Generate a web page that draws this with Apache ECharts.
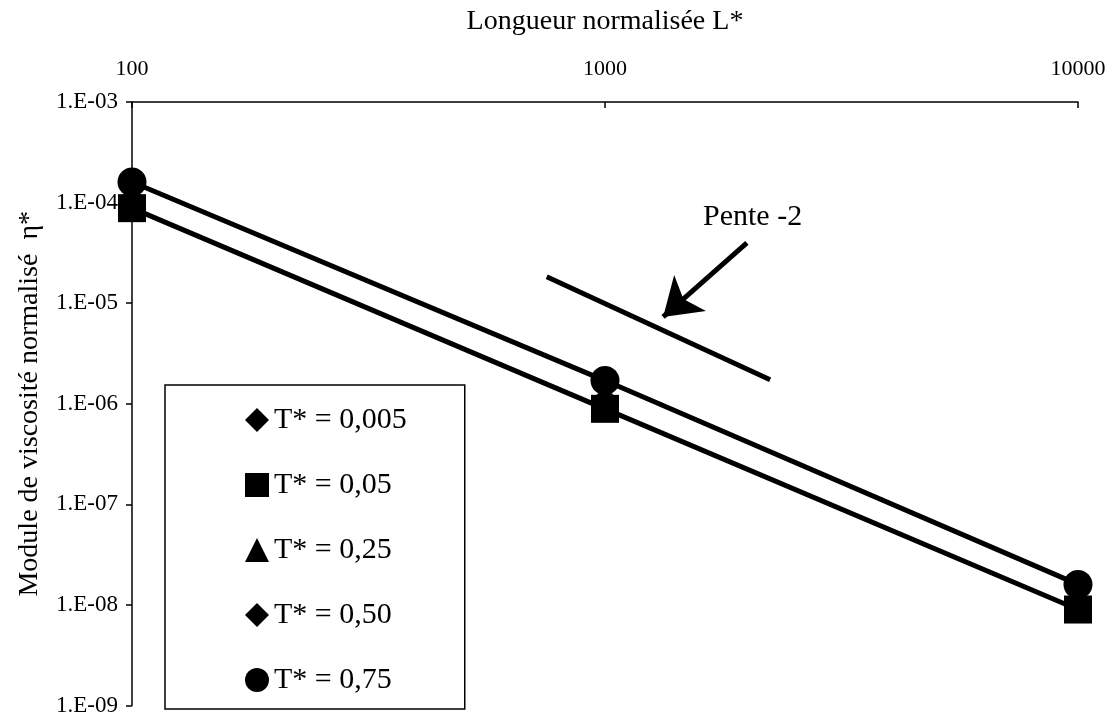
<!DOCTYPE html>
<html>
<head>
<meta charset="utf-8">
<script src="https://cdn.jsdelivr.net/npm/echarts@6/dist/echarts.min.js"></script>
<style>html,body{margin:0;padding:0;background:#fff}#c{width:1114px;height:717px}</style>
</head>
<body>
<div id="c"></div>
<script>
// Data
const lengths = [100, 1000, 10000];
const seriesNames = ['T* = 0,005', 'T* = 0,05', 'T* = 0,25', 'T* = 0,50', 'T* = 0,75'];
const eta_T0005 = [9.0e-5, 9.0e-7, 9.0e-9];
const eta_T005  = [8.8e-5, 8.9e-7, 9.0e-9];
const eta_T025  = [1.0e-4, 1.0e-6, 1.0e-8];
const eta_T050  = [1.1e-4, 1.1e-6, 1.1e-8];
const eta_T075  = [1.6e-4, 1.7e-6, 1.6e-8];
const slopeLine = [[753, 1.83e-5], [2234, 1.73e-6]];
const slopeArrow = [[1995, 3.98e-5], [1327, 7.3e-6]];
const slopeLabel = 'Pente -2';
const xTitle = 'Longueur normalisée L*';
const yTitle = 'Module de viscosité normalisé  η*';

const FONT = '"Liberation Serif", "Times New Roman", serif';
const symbols = ['diamond', 'rect', 'triangle', 'diamond', 'circle'];
const sizes = [26, 28, 28, 26, 29];
const values = [eta_T0005, eta_T005, eta_T025, eta_T050, eta_T075];
const withLine = [false, true, false, false, true];

const series = values.map((v, i) => ({
  name: seriesNames[i],
  type: 'line',
  data: lengths.map((x, j) => [x, v[j]]),
  symbol: symbols[i],
  symbolSize: sizes[i],
  showAllSymbol: true,
  itemStyle: { color: '#000' },
  lineStyle: { color: '#000', width: withLine[i] ? 5 : 0, opacity: withLine[i] ? 1 : 0 },
  z: 3 + i,
  animation: false
}));

series.push({
  name: 'slope',
  type: 'line',
  data: slopeLine,
  symbol: 'none',
  lineStyle: { color: '#000', width: 5 },
  z: 2,
  animation: false,
  markLine: {
    silent: true,
    symbol: ['none', 'arrow'],
    symbolSize: 36,
    lineStyle: { color: '#000', width: 5, type: 'solid' },
    itemStyle: { color: '#000' },
    label: { show: false },
    animation: false,
    data: [[{ coord: slopeArrow[0] }, { coord: slopeArrow[1] }]]
  }
});

const chart = echarts.init(document.getElementById('c'));
chart.setOption({
  backgroundColor: '#fff',
  animation: false,
  grid: { left: 132, right: 36, top: 102, bottom: 11, containLabel: false },
  xAxis: {
    type: 'log', logBase: 10, min: 100, max: 10000, position: 'top',
    name: xTitle, nameLocation: 'middle', nameGap: 66,
    nameTextStyle: { fontFamily: FONT, fontSize: 28, color: '#000' },
    axisLine: { show: true, lineStyle: { color: '#000', width: 1.5 } },
    axisTick: { show: true, inside: true, length: 6, lineStyle: { color: '#000', width: 1.5 } },
    minorTick: { show: false },
    splitLine: { show: false },
    axisLabel: { fontFamily: FONT, fontSize: 22, color: '#000', margin: 22, formatter: v => String(Math.round(v)) }
  },
  yAxis: {
    type: 'log', logBase: 10, min: 1e-9, max: 1e-3,
    name: yTitle, nameLocation: 'middle', nameGap: 88, nameRotate: 90,
    nameTextStyle: { fontFamily: FONT, fontSize: 28, color: '#000' },
    axisLine: { show: true, lineStyle: { color: '#000', width: 1.5 } },
    axisTick: { show: true, inside: false, length: 6, lineStyle: { color: '#000', width: 1.5 } },
    splitLine: { show: false },
    axisLabel: {
      fontFamily: FONT, fontSize: 23, color: '#000', margin: 14,
      formatter: v => {
        const e = Math.round(Math.log10(v));
        const a = Math.abs(e);
        return '1.E' + (e < 0 ? '-' : '+') + (a < 10 ? '0' + a : a);
      }
    }
  },
  legend: {
    orient: 'vertical', left: 165, top: 385, height: 400,
    data: seriesNames.map((n, i) => ({ name: n, icon: symbols[i] })),
    itemWidth: 24, itemHeight: 24, itemGap: 35,
    padding: [20, 58, 14, 80],
    borderColor: '#000', borderWidth: 1.5,
    textStyle: { fontFamily: FONT, fontSize: 30, color: '#000' },
    selectedMode: false
  },
  graphic: [{
    type: 'text', left: 703, top: 202,
    style: { text: slopeLabel, font: '30px ' + FONT, fill: '#000' }
  }],
  series: series
});
</script>
</body>
</html>
